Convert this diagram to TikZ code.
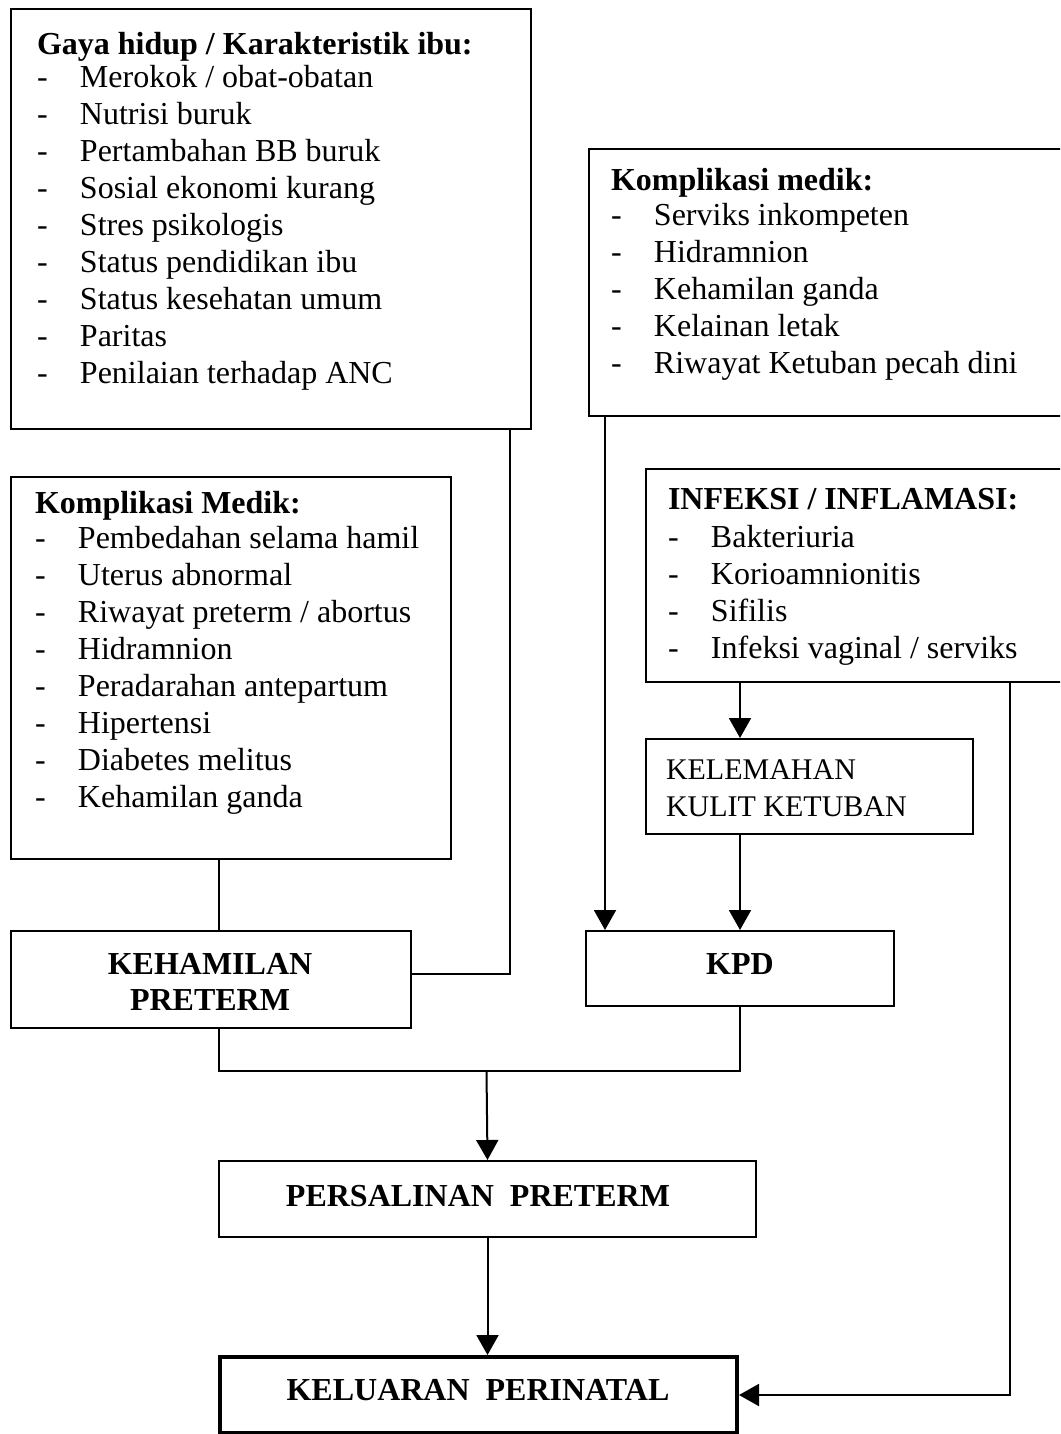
\documentclass[tikz,border=0pt]{standalone}
\usepackage{fontspec}
\setmainfont{Liberation Serif}
\usetikzlibrary{arrows.meta}
\newcommand{\itm}[1]{\makebox[21.5pt][l]{-}#1}

\begin{document}
\begin{tikzpicture}[x=0.5pt, y=-0.5pt,
										line width = 1pt,
										box/.style={draw, rectangle, anchor=north west, inner sep=0pt},
										txt/.style={inner sep=0pt, align=left, anchor=north west, font=\fontsize{16pt}{18.5pt}\selectfont},
										ttl/.style={inner sep=0pt, align=center, font=\fontsize{16pt}{18pt}\selectfont\bfseries},
										arr/.style={-{Triangle[length=10pt, width=11pt]}}]

		\useasboundingbox (0,0) rectangle (1060,1434);
		\clip (0,0) rectangle (1060,1434);

		\node [box, minimum width=260pt, minimum height=210pt] (gaya) at (10,8) {};
		\node [box, minimum width=240pt, minimum height=133.5pt] (medik2) at (588,148) {};
		\node [box, minimum width=220pt, minimum height=191pt] (medik1) at (10,476) {};
		\node [box, minimum width=212.5pt, minimum height=106.5pt] (infeksi) at (645,468) {};
		\node [box, minimum width=163.5pt, minimum height=47.5pt] (lemah) at (645,738) {};
		\node [box, minimum width=200pt, minimum height=48.5pt] (hamil) at (10,930) {};
		\node [box, minimum width=154pt, minimum height=37.5pt] (kpd) at (585,930) {};
		\node [box, minimum width=268.5pt, minimum height=38pt] (salin) at (218,1160) {};
		\node [box, line width=2pt, minimum width=258.5pt, minimum height=38pt] (luaran) at (218,1355) {};

		\node [txt] (gayaT) at (36,31) {\textbf{Gaya hidup / Karakteristik ibu:}\\[-2pt]
			\itm{Merokok / obat-obatan}\\
			\itm{Nutrisi buruk}\\
			\itm{Pertambahan BB buruk}\\
			\itm{Sosial ekonomi kurang}\\
			\itm{Stres psikologis}\\
			\itm{Status pendidikan ibu}\\
			\itm{Status kesehatan umum}\\
			\itm{Paritas}\\
			\itm{Penilaian terhadap ANC}};
		\node [txt] (medik2T) at (610,167) {\textbf{Komplikasi medik:}\\[-1pt]
			\itm{Serviks inkompeten}\\
			\itm{Hidramnion}\\
			\itm{Kehamilan ganda}\\
			\itm{Kelainan letak}\\
			\itm{Riwayat Ketuban pecah dini}};
		\node [txt] (medik1T) at (34,490) {\textbf{Komplikasi Medik:}\\[-1pt]
			\itm{Pembedahan selama hamil}\\
			\itm{Uterus abnormal}\\
			\itm{Riwayat preterm / abortus}\\
			\itm{Hidramnion}\\
			\itm{Peradarahan antepartum}\\
			\itm{Hipertensi}\\
			\itm{Diabetes melitus}\\
			\itm{Kehamilan ganda}};
		\node [txt] (infeksiT) at (667,487) {\textbf{INFEKSI / INFLAMASI:}\\[0.5pt]
			\itm{Bakteriuria}\\
			\itm{Korioamnionitis}\\
			\itm{Sifilis}\\
			\itm{Infeksi vaginal / serviks}};
		\node [txt, font=\fontsize{15pt}{18.5pt}\selectfont] (lemahT) at (665,759) {KELEMAHAN\\KULIT KETUBAN};
		\node [ttl, anchor=north] (hamilT) at (210,952) {KEHAMILAN\\PRETERM};
		\node [ttl, anchor=base] (kpdT) at (740,974) {KPD};
		\node [ttl, anchor=base] (salinT) at (478,1206) {PERSALINAN\ \ PRETERM};
		\node [ttl, anchor=base] (luaranT) at (478,1400) {KELUARAN\ \ PERINATAL};

		\coordinate (join) at (486.5,1071);
		\draw ([xshift=-11pt]gaya.south east) |- ([yshift=3pt]hamil.east);
		\draw ([xshift=-6pt]medik1.south) -- ([xshift=-6pt]medik1.south |- hamil.north);
		\draw [arr] ([xshift=8.5pt]medik2.south west) -- ([xshift=8.5pt]medik2.south west |- kpd.north);
		\draw [arr] (infeksi.south -| kpd.north) -- (lemah.north -| kpd.north);
		\draw [arr] (lemah.south -| kpd.north) -- (kpd.north);
		\draw [arr] ([xshift=182.5pt]infeksi.south west) |- (luaran.east);
		\draw ([xshift=4pt]hamil.south) |- (join) -| (kpd.south);
		\draw [arr] (join) -- (salin.north);
		\draw [arr] (salin.south) -- (salin.south |- luaran.north);

\end{tikzpicture}
\end{document}
